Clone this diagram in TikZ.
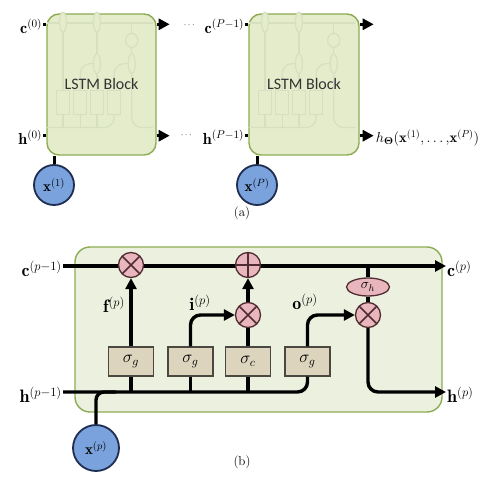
\RequirePackage{fix-cm}
\documentclass[tikz,border=0pt]{standalone}
\usepackage{amsmath,amssymb}
\usepackage{fontspec}
\newfontfamily\blockfont{Carlito}
\usetikzlibrary{arrows.meta, positioning, shapes.geometric, calc}

\definecolor{blockA}{RGB}{228,236,204}
\definecolor{blockB}{RGB}{235,241,222}
\definecolor{blockline}{RGB}{140,172,82}
\definecolor{ghost}{RGB}{214,224,193}
\definecolor{gatefill}{RGB}{221,212,190}
\definecolor{gateline}{RGB}{75,72,66}
\definecolor{opfill}{RGB}{232,182,188}
\definecolor{opline}{RGB}{80,45,50}
\definecolor{xfill}{RGB}{122,162,220}
\definecolor{xline}{RGB}{30,45,80}

% faint copy of the cell wiring, drawn in the coordinates of panel (b)
\newcommand{\ghostcell}{%
    \draw[ghostline] (75,266) -- (442,266);
    \draw[ghostline, rounded corners=10pt] (75,392) -| (307.5,376);
    \foreach \gx in {131,190.5,248,307.5}
        \draw[ghostline, fill=blockA] (\gx-22.5,347) rectangle (\gx+22.5,376);
    \foreach \gx in {131,190.5,248}
        \draw[ghostline] (\gx,376) -- (\gx,392);
    \draw[ghostline] (131,347) -- (131,277);
    \draw[ghostline, rounded corners=10pt] (190.5,347) |- (236,315);
    \draw[ghostline] (248,347) -- (248,327);
    \draw[ghostline] (248,303) -- (248,277);
    \draw[ghostline, rounded corners=10pt] (307.5,347) |- (356,315);
    \draw[ghostline] (368,266) -- (368,278.5);
    \draw[ghostline] (368,295.5) -- (368,303);
    \draw[ghostline, rounded corners=10pt] (368,327) |- (442,392);
    \draw[ghostline, fill=blockA] (368,287) ellipse [x radius=21, y radius=8.5];
    \foreach \gx/\gy in {131/265,248/265,248/315,368/315}
        \draw[ghostline, fill=blockA] (\gx,\gy) circle [radius=12];
}

\begin{document}
\begin{tikzpicture}[
        x=1pt, y=-1pt,
        >={Triangle[length=11pt,width=11pt]},
        block/.style={draw=blockline, fill=blockA, line width=1.4pt, rounded corners=12pt},
        ghostline/.style={draw=ghost, line width=1.2pt},
        blocktext/.style={font=\blockfont\fontsize{16}{19}\selectfont, text=black!80},
        wire/.style={line width=3.4pt},
        awire/.style={line width=3pt},
        gate/.style={draw=gateline, fill=gatefill, line width=1.3pt, minimum width=45pt, minimum height=29pt, inner sep=0pt, font=\fontsize{17}{19}\selectfont},
        mult/.style={circle, draw=opline, fill=opfill, line width=1.3pt, minimum size=25pt, inner sep=0pt,
            path picture={\draw[opline, line width=1.5pt] (path picture bounding box.south west) -- (path picture bounding box.north east)
                (path picture bounding box.north west) -- (path picture bounding box.south east);}},
        add/.style={circle, draw=opline, fill=opfill, line width=1.3pt, minimum size=25pt, inner sep=0pt,
            path picture={\draw[opline, line width=1.5pt] (path picture bounding box.north) -- (path picture bounding box.south)
                (path picture bounding box.west) -- (path picture bounding box.east);}},
        squash/.style={ellipse, draw=opline, fill=opfill, line width=1.3pt, minimum width=43pt, minimum height=18pt, inner sep=0pt, font=\fontsize{14}{16}\selectfont},
        input/.style={circle, draw=xline, fill=xfill, line width=1.8pt, minimum size=40pt, inner sep=0pt, font=\fontsize{15}{17}\selectfont},
        alab/.style={font=\fontsize{16}{18}\selectfont, inner sep=1pt},
        blab/.style={font=\fontsize{18}{20}\selectfont, inner sep=1pt},
        dots/.style={font=\fontsize{9}{10}\selectfont, inner sep=0pt},
        caption/.style={font=\fontsize{13}{15}\selectfont}
    ]
    \useasboundingbox (0,0) rectangle (485,481);

    % --- (a): unrolled chain of LSTM blocks ---
    \node[block, minimum width=109pt, minimum height=141pt] (lstmA) at (101.5,84.5) {};
    \begin{scope}[shift={(25,-197.8)}, xscale=0.29, yscale=0.83]
        \ghostcell
    \end{scope}
    \node[blocktext] at (lstmA.center) {LSTM Block};

    \node[block, minimum width=110pt, minimum height=141pt] (lstmB) at (304,84.5) {};
    \begin{scope}[shift={(227,-197.8)}, xscale=0.29, yscale=0.83]
        \ghostcell
    \end{scope}
    \node[blocktext] at (lstmB.center) {LSTM Block};

    \coordinate (cAin) at ([yshift=-11pt]lstmA.north west);
    \coordinate (hAin) at ([yshift=20pt]lstmA.south west);
    \coordinate (cAout) at ([yshift=-11pt]lstmA.north east);
    \coordinate (hAout) at ([yshift=20pt]lstmA.south east);
    \coordinate (cBin) at ([yshift=-11pt]lstmB.north west);
    \coordinate (hBin) at ([yshift=20pt]lstmB.south west);
    \coordinate (cBout) at ([yshift=-11pt]lstmB.north east);
    \coordinate (hBout) at ([yshift=20pt]lstmB.south east);

    \node[alab, left=3pt of cAin, yshift=-2pt] (c0) {$\mathbf{c}^{(0)}$};
    \node[alab, left=3pt of hAin, yshift=-2pt] (h0) {$\mathbf{h}^{(0)}$};
    \node[alab, left=3pt of cBin, yshift=-2pt] (cP) {$\mathbf{c}^{(P-1)}$};
    \node[alab, left=3pt of hBin, yshift=-2pt] (hP) {$\mathbf{h}^{(P-1)}$};
    \draw[awire] ([xshift=-3pt]cAin) -- (cAin);
    \draw[awire] ([xshift=-3pt]hAin) -- (hAin);
    \draw[awire] ([xshift=-3pt]cBin) -- (cBin);
    \draw[awire] ([xshift=-3pt]hBin) -- (hBin);

    \coordinate (cAend) at ([xshift=13pt]cAout);
    \coordinate (hAend) at ([xshift=13pt]hAout);
    \coordinate (cBend) at ([xshift=14pt]cBout);
    \coordinate (hBend) at ([xshift=14pt]hBout);
    \draw[awire, ->] (cAout) -- (cAend);
    \draw[awire, ->] (hAout) -- (hAend);
    \draw[awire, ->] (cBout) -- (cBend);
    \draw[awire, ->] (hBout) -- (hBend);
    \node[dots] at (190,25) {$\cdots$};
    \node[dots] at (187,135) {$\cdots$};
    \node[alab, font=\fontsize{14.5}{17}\selectfont, right=1pt of hBend, yshift=-2pt] (hout)
        {$h_{\boldsymbol{\Theta}}(\mathbf{x}^{(1)}{,}\ldots{,}\mathbf{x}^{(P)})$};

    \node[input] (x1) at (54,185) {$\mathbf{x}^{(1)}$};
    \node[input] (xP) at (257,185) {$\mathbf{x}^{(P)}$};
    \draw[awire] (x1.north) -- (x1.north |- lstmA.south);
    \draw[awire] (xP.north) -- (xP.north |- lstmB.south);

    \node[caption] at (242,213) {(a)};

    % --- (b): inside one LSTM block ---
    \draw[block, fill=blockB, rounded corners=15pt] (75,247) rectangle (442,412);
    \coordinate (cin) at (63,266);
    \coordinate (cout) at (446,266);
    \coordinate (hin) at (63,392);
    \coordinate (hend) at (446,392);
    \node[blab, left=0pt of cin, yshift=-3pt] (cprev) {$\mathbf{c}^{(p-1)}$};
    \node[blab, right=0pt of cout, yshift=-3pt] (cnext) {$\mathbf{c}^{(p)}$};
    \node[blab, left=0pt of hin, yshift=-3pt] (hprev) {$\mathbf{h}^{(p-1)}$};
    \node[blab, right=0pt of hend, yshift=-3pt] (hnext) {$\mathbf{h}^{(p)}$};
    \draw[wire, ->] (cin) -- (cout);

    \node[gate] (fgate) at (131,361.5) {$\sigma_g$};
    \node[gate] (igate) at (190.5,361.5) {$\sigma_g$};
    \node[gate] (cgate) at (248,361.5) {$\sigma_c$};
    \node[gate] (ogate) at (307.5,361.5) {$\sigma_g$};
    \node[mult] (fmul) at (131,265) {};
    \node[add] (cadd) at (248,265) {};
    \node[mult] (imul) at (248,315) {};
    \node[mult] (omul) at (368,315) {};
    \node[squash] (tanh) at (368,287) {$\sigma_h$};
    \node[input, minimum size=46pt] (xp) at (96,448) {$\mathbf{x}^{(p)}$};

    \draw[wire, rounded corners=10pt] (hin) -| (ogate.south);
    \foreach \g in {fgate, igate, cgate}
        \draw[wire] (\g.south) -- (\g.south |- hin);
    \draw[wire, rounded corners=8pt] (xp.north) |- ($(xp.north |- hin)+(20,0)$);
    \draw[wire, ->] (fgate.north) -- (fmul.south);
    \draw[wire, ->, rounded corners=10pt] (igate.north) |- (imul.west);
    \draw[wire] (cgate.north) -- (imul.south);
    \draw[wire, ->] (imul.north) -- (cadd.south);
    \draw[wire, ->, rounded corners=10pt] (ogate.north) |- (omul.west);
    \draw[wire] (tanh.north |- cin) -- (tanh.north);
    \draw[wire] (tanh.south) -- (omul.north);
    \draw[wire, ->, rounded corners=10pt] (omul.south) |- (hend);

    \node[blab, anchor=east] (flab) at (126,305) {$\mathbf{f}^{(p)}$};
    \node[blab] (ilab) at (200,303) {$\mathbf{i}^{(p)}$};
    \node[blab] (olab) at (305,302) {$\mathbf{o}^{(p)}$};

    \node[caption] at (242,462) {(b)};
\end{tikzpicture}
\end{document}
